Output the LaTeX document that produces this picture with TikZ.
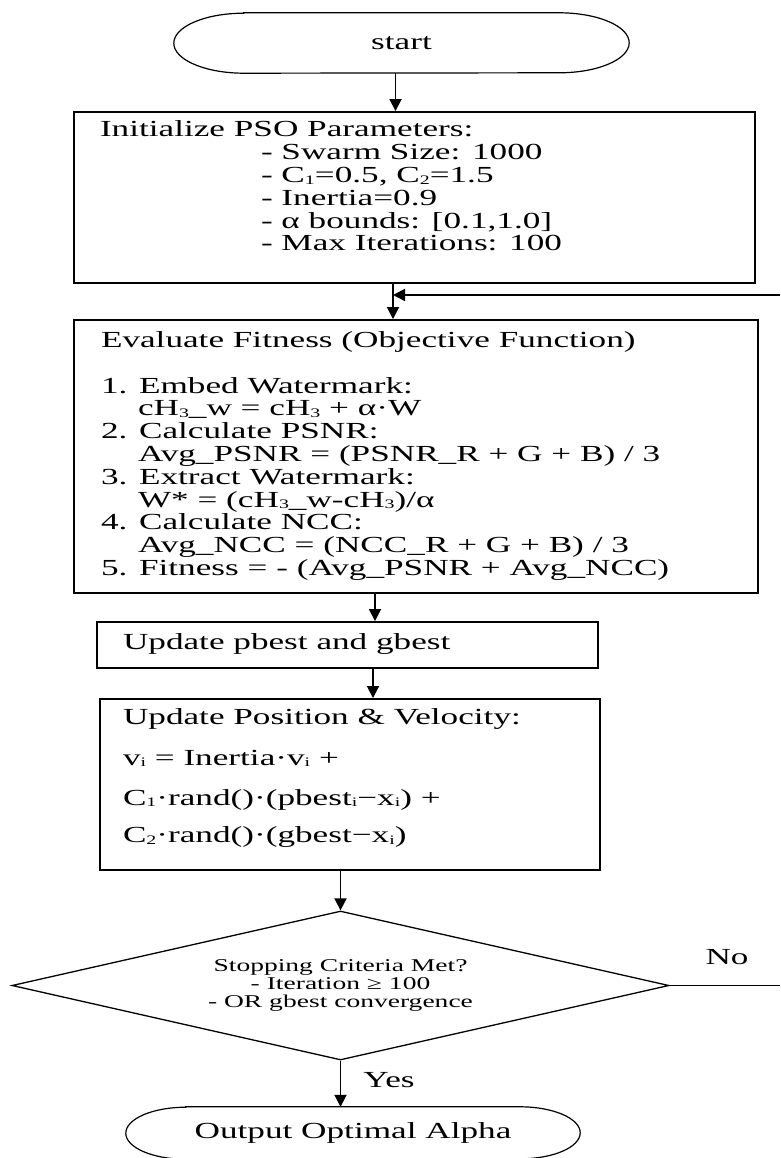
\documentclass[tikz,border=0pt]{standalone}
\usepackage{fontspec}
\setmainfont{Liberation Serif}[FakeStretch=1.53]
\usetikzlibrary{
  arrows.meta, % for the Triangle arrow tip
  shapes.geometric, % for the decision diamond
}
% fixed size text block, text starts at the top
\newcommand{\boxtext}[3]{\parbox[c][#2][t]{#1}{\raggedright #3}}
% small index that sits close to the baseline
\newcommand{\idx}[1]{\raisebox{-1.5pt}{\fontsize{13}{13}\selectfont #1}}
% outline of a start/end terminal with elliptic ends
\newcommand{\termoutline}[3]{%
  \draw[line width=1.2pt] ([xshift=#2]#1.north west) -- ([xshift=-#2]#1.north east)
    arc[start angle=90, end angle=-90, x radius=#2, y radius=#3]
    -- ([xshift=#2]#1.south west)
    arc[start angle=270, end angle=90, x radius=#2, y radius=#3] -- cycle;}
\tikzset{
  process/.style={ % style for the rectangular steps
    rectangle,draw,line width=1.9pt, % drawn as a thick rectangle
    inner sep=0pt, % the size comes from \boxtext
    font=\fontsize{23}{22.8}\selectfont,
  },
  terminal/.style={ % style for start and end, outline by \termoutline
    rectangle,inner sep=0pt,
    font=\fontsize{23}{27}\selectfont,
  },
  decision/.style={ % style for the test
    diamond,draw,line width=1.3pt,
    shape aspect=4.4,inner sep=0pt,align=center,
    font=\fontsize{18}{18}\selectfont,
  },
  conn/.style={ % style for the arrows
    -{Triangle[length=12pt,width=12pt]},
    line width=1.8pt,
  },
  lbl/.style={ % style for Yes / No
    inner sep=0pt,font=\fontsize{23}{27}\selectfont,
  },
}

\begin{document}
\begin{tikzpicture}[x=1pt,y=1pt]
	\useasboundingbox[fill=white] (0,0) rectangle (780,-1158);

	\node[terminal,minimum width=455pt,minimum height=60pt] (start) at (401.5,-43) {start};
	\termoutline{start}{70pt}{30pt}

	\node[process] (init) at (414.5,-197.5) {\boxtext{681pt}{171pt}{\leftskip=26pt
		\rule{0pt}{25pt}Initialize PSO Parameters:\\
		\hspace*{161pt}- Swarm Size: 1000\\
		\hspace*{161pt}- C\idx{1}=0.5, C\idx{2}=1.5\\
		\hspace*{161pt}- Inertia=0.9\\
		\hspace*{161pt}- α bounds: [0.1,1.0]\\
		\hspace*{161pt}- Max Iterations: 100}};

	\node[process] (eval) at (416,-456.5) {\boxtext{684pt}{273pt}{\leftskip=27pt
		\rule{0pt}{27.5pt}Evaluate Fitness (Objective Function)\\[22.8pt]
		1. Embed Watermark:\\
		\hspace*{37pt}cH\idx{3}\_w = cH\idx{3} + α·W\\
		2. Calculate PSNR:\\
		\hspace*{37pt}Avg\_PSNR = (PSNR\_R + G + B) / 3\\
		3. Extract Watermark:\\
		\hspace*{37pt}W* = (cH\idx{3}\_w-cH\idx{3})/α\\
		4. Calculate NCC:\\
		\hspace*{37pt}Avg\_NCC = (NCC\_R + G + B) / 3\\
		5. Fitness = - (Avg\_PSNR + Avg\_NCC)}};

	\node[process] (pbest) at (347.5,-645) {\boxtext{501pt}{46pt}{\leftskip=26pt
		\rule{0pt}{27pt}Update pbest and gbest}};

	\node[process] (update) at (350,-784.5) {\boxtext{500pt}{171pt}{\leftskip=23pt
		\rule{0pt}{25.5pt}Update Position \& Velocity:\\[18pt]
		v\idx{i} = Inertia·v\idx{i} +\\[17pt]
		C\idx{1}·rand()·(pbest\idx{i}−x\idx{i}) +\\[15pt]
		C\idx{2}·rand()·(gbest−x\idx{i})}};

	\node[decision,minimum width=657pt,minimum height=149pt] (stop) at (340.5,-985.5)
		{Stopping Criteria Met?\\ - Iteration ≥ 100\\ - OR gbest convergence};

	\node[terminal,minimum width=454pt,minimum height=52pt] (output) at (353,-1133) {Output Optimal Alpha};
	\termoutline{output}{60pt}{26pt}

	% the loop back from No enters and leaves at the right edge
	\coordinate (loopin) at (780,-295);
	\coordinate (noend) at (780,-985.5);

	\draw[conn] ([xshift=-6pt]start.south) -- ([xshift=-6pt]start.south |- init.north);
	\draw[conn] ([xshift=-21.5pt]init.south) -- ([xshift=-21.5pt]init.south |- eval.north);
	\draw[conn] (loopin) -- ([xshift=-21.5pt]loopin -| init.south);
	\draw[conn] ([xshift=-41pt]eval.south) -- ([xshift=-41pt]eval.south |- pbest.north);
	\draw[conn] ([xshift=25.5pt]pbest.south) -- ([xshift=25.5pt]pbest.south |- update.north);
	\draw[conn] (stop.north |- update.south) -- (stop.north);
	\draw[conn] (stop.south) -- (stop.south |- output.north)
		node[lbl,pos=0.42,right=22pt] {Yes};
	\draw[line width=1.3pt] (stop.east) -- (noend)
		node[lbl,pos=0.52,above=20pt] {No};
\end{tikzpicture}
\end{document}
